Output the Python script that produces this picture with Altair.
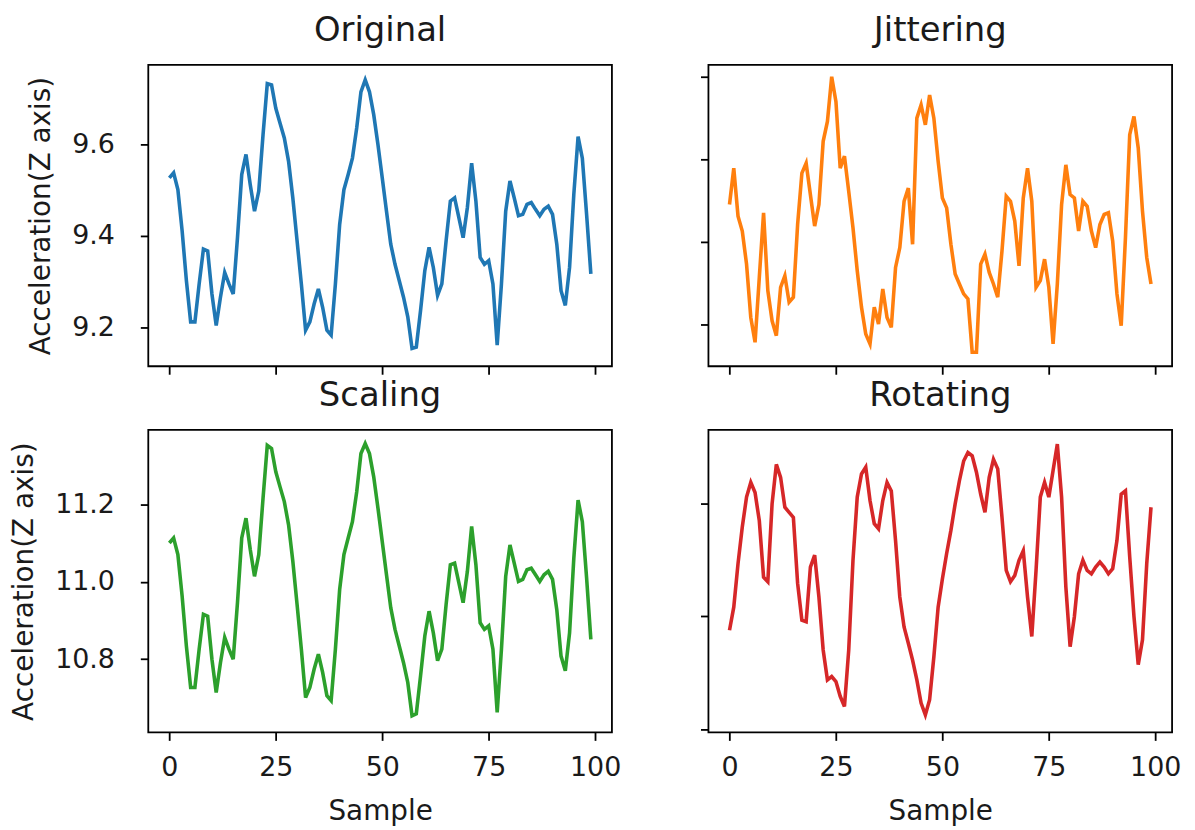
import altair as alt
import pandas as pd

samples = list(range(100))

original = [9.527, 9.538, 9.501, 9.411, 9.302, 9.212, 9.212, 9.295, 9.371, 9.367,
            9.273, 9.204, 9.266, 9.320, 9.295, 9.273, 9.396, 9.534, 9.578, 9.512,
            9.454, 9.498, 9.621, 9.733, 9.730, 9.679, 9.646, 9.614, 9.563, 9.483,
            9.389, 9.295, 9.194, 9.212, 9.251, 9.284, 9.244, 9.194, 9.183, 9.295,
            9.425, 9.501, 9.534, 9.570, 9.636, 9.715, 9.741, 9.715, 9.665, 9.599,
            9.527, 9.454, 9.382, 9.338, 9.302, 9.266, 9.223, 9.154, 9.157, 9.237,
            9.324, 9.375, 9.331, 9.270, 9.295, 9.389, 9.476, 9.483, 9.440, 9.396,
            9.462, 9.559, 9.476, 9.353, 9.338, 9.346, 9.295, 9.161, 9.295, 9.454,
            9.520, 9.483, 9.444, 9.447, 9.469, 9.473, 9.458, 9.444, 9.458, 9.465,
            9.447, 9.382, 9.280, 9.248, 9.331, 9.491, 9.617, 9.570, 9.447, 9.317]

jittering = [9.491, 9.579, 9.463, 9.427, 9.347, 9.218, 9.158, 9.315, 9.471, 9.283,
             9.210, 9.174, 9.291, 9.319, 9.255, 9.267, 9.443, 9.567, 9.591, 9.515,
             9.439, 9.491, 9.644, 9.692, 9.800, 9.740, 9.579, 9.608, 9.523, 9.435,
             9.331, 9.243, 9.178, 9.154, 9.243, 9.202, 9.287, 9.218, 9.194, 9.339,
             9.387, 9.499, 9.531, 9.395, 9.700, 9.732, 9.684, 9.756, 9.700, 9.596,
             9.507, 9.483, 9.395, 9.323, 9.299, 9.275, 9.263, 9.134, 9.134, 9.347,
             9.371, 9.327, 9.299, 9.267, 9.379, 9.511, 9.499, 9.451, 9.343, 9.507,
             9.579, 9.499, 9.291, 9.307, 9.359, 9.291, 9.154, 9.299, 9.491, 9.587,
             9.515, 9.507, 9.427, 9.499, 9.487, 9.427, 9.387, 9.443, 9.467, 9.471,
             9.403, 9.275, 9.198, 9.411, 9.660, 9.704, 9.628, 9.475, 9.363, 9.299]

scaling = [11.100, 11.113, 11.070, 10.963, 10.834, 10.727, 10.727, 10.826, 10.916, 10.911,
           10.800, 10.714, 10.791, 10.856, 10.826, 10.800, 10.946, 11.113, 11.164, 11.083,
           11.014, 11.070, 11.215, 11.352, 11.344, 11.284, 11.245, 11.207, 11.147, 11.053,
           10.941, 10.826, 10.701, 10.727, 10.774, 10.813, 10.766, 10.706, 10.693, 10.826,
           10.980, 11.070, 11.113, 11.155, 11.232, 11.331, 11.357, 11.331, 11.271, 11.190,
           11.104, 11.018, 10.933, 10.877, 10.834, 10.791, 10.740, 10.654, 10.659, 10.757,
           10.860, 10.924, 10.868, 10.796, 10.826, 10.941, 11.044, 11.048, 10.997, 10.946,
           11.027, 11.143, 11.044, 10.894, 10.877, 10.886, 10.826, 10.663, 10.826, 11.014,
           11.095, 11.048, 11.001, 11.006, 11.031, 11.035, 11.018, 11.001, 11.018, 11.027,
           11.006, 10.928, 10.808, 10.770, 10.868, 11.061, 11.211, 11.155, 11.010, 10.851]

rotating = [10.975, 11.016, 11.093, 11.158, 11.211, 11.237, 11.219, 11.169, 11.069, 11.061,
            11.199, 11.269, 11.246, 11.193, 11.184, 11.175, 11.058, 10.993, 10.990, 11.087,
            11.108, 11.034, 10.940, 10.887, 10.893, 10.884, 10.858, 10.840, 10.940, 11.099,
            11.211, 11.252, 11.264, 11.205, 11.164, 11.155, 11.205, 11.237, 11.222, 11.134,
            11.034, 10.981, 10.952, 10.922, 10.887, 10.846, 10.825, 10.852, 10.928, 11.016,
            11.066, 11.111, 11.152, 11.199, 11.240, 11.275, 11.290, 11.284, 11.255, 11.216,
            11.184, 11.246, 11.278, 11.261, 11.175, 11.081, 11.061, 11.072, 11.099, 11.116,
            11.034, 10.964, 11.081, 11.211, 11.237, 11.211, 11.258, 11.305, 11.211, 11.052,
            10.946, 10.999, 11.075, 11.099, 11.081, 11.075, 11.087, 11.096, 11.087, 11.075,
            11.084, 11.134, 11.216, 11.222, 11.105, 10.999, 10.914, 10.958, 11.093, 11.193]

titles = ["Original", "Jittering", "Scaling", "Rotating"]
colors = ["#1f77b4", "#ff7f0e", "#2ca02c", "#d62728"]
x_ticks = [0, 25, 50, 75, 100]
x_domain = [-4.95, 103.95]
y_domains = [[9.115, 9.774], [9.100, 9.829], [10.611, 11.392], [10.794, 11.330]]
y_ticks = [[9.2, 9.4, 9.6], [9.2, 9.4, 9.6, 9.8], [10.8, 11.0, 11.2], [10.8, 11.0, 11.2]]
y_label = "Acceleration(Z axis)"
x_label = "Sample"

FONT = "DejaVu Sans"
TEXT = "#1a1a1a"
W = 466


def panel(values, idx):
    show_x = idx >= 2
    show_y = idx % 2 == 0
    h = 303 if idx < 2 else 304
    df = pd.DataFrame({"Sample": samples, "value": values})
    if show_x:
        x_axis = alt.Axis(values=x_ticks, title=x_label, labels=True)
    else:
        x_axis = alt.Axis(values=x_ticks, title=None, labels=False)
    if show_y:
        y_axis = alt.Axis(values=y_ticks[idx], format=".1f", title=y_label, labels=True)
    else:
        y_axis = alt.Axis(values=y_ticks[idx], title=None, labels=False)
    line = (
        alt.Chart(df)
        .mark_line(color=colors[idx], strokeWidth=3.6)
        .encode(
            x=alt.X("Sample:Q", scale=alt.Scale(domain=x_domain, nice=False, zero=False), axis=x_axis),
            y=alt.Y("value:Q", scale=alt.Scale(domain=y_domains[idx], nice=False, zero=False), axis=y_axis),
        )
    )
    head = (
        alt.Chart(pd.DataFrame({"t": [titles[idx]]}))
        .mark_text(font=FONT, fontSize=34, color=TEXT, align="center", baseline="alphabetic")
        .encode(text="t:N", x=alt.value(W / 2), y=alt.value(-24))
    )
    return alt.layer(line, head).properties(width=W, height=h)


series = [original, jittering, scaling, rotating]
panels = [panel(series[i], i) for i in range(4)]

chart = (
    alt.concat(*panels, columns=2, spacing={"row": 2, "column": 77})
    .properties(padding={"left": 1, "top": 3, "right": 5, "bottom": 0})
    .configure(background="white")
    .configure_view(stroke="#000000", strokeWidth=1.8)
    .configure_axis(
        domain=False, grid=False, ticks=True, tickColor="#000000", tickWidth=1.8, tickSize=8,
        labelFont=FONT, labelFontSize=27, labelColor=TEXT,
        titleFont=FONT, titleFontSize=28, titleFontWeight="normal", titleColor=TEXT,
    )
    .configure_axisX(labelPadding=14, titlePadding=18)
    .configure_axisY(labelPadding=26, titlePadding=16)
)

chart.save("out.html", embed_options={"renderer": "svg", "actions": False})
